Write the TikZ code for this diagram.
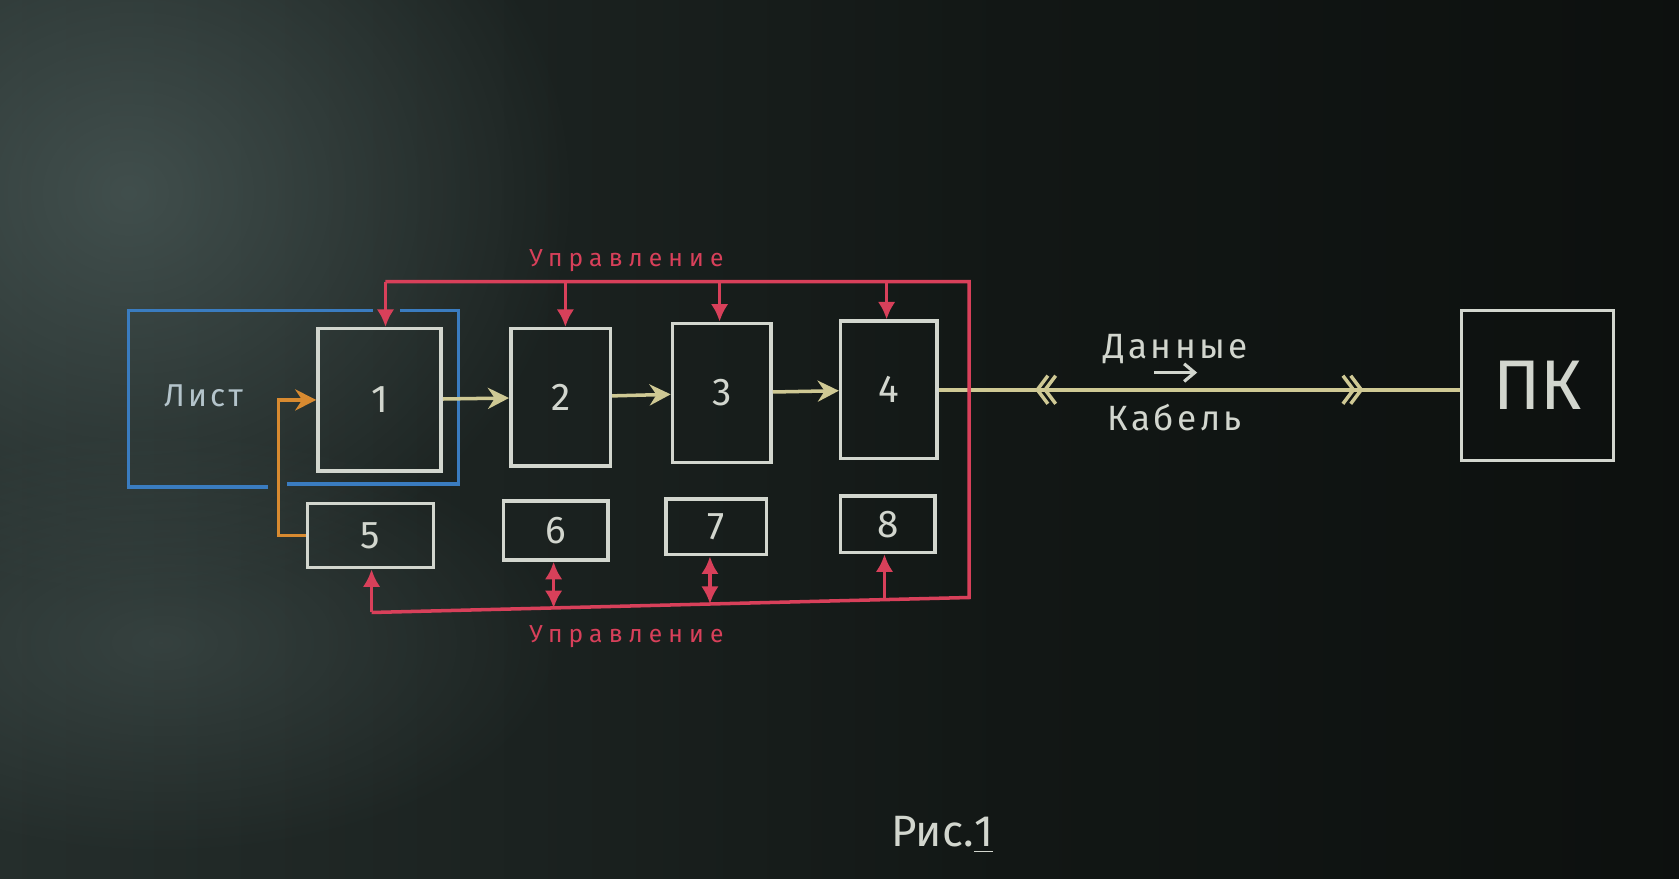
\documentclass[tikz,border=0pt]{standalone}
\usepackage{fontspec}
\setmainfont{Fira Sans}
\usetikzlibrary{arrows.meta,decorations.markings,fadings}
\definecolor{chalk}{HTML}{D2D6CE}
\definecolor{rchalk}{HTML}{D8405A}
\definecolor{bchalk}{HTML}{3A7CC0}
\definecolor{ychalk}{HTML}{CFC994}
\definecolor{ochalk}{HTML}{D88A30}
\definecolor{bl1}{HTML}{3B4845}
\definecolor{bl2}{HTML}{252E2C}
\definecolor{bl3}{HTML}{121715}
\definecolor{bl4}{HTML}{060807}
\definecolor{haze}{HTML}{5A6C6A}
\pgfdeclarehorizontalshading{board}{100bp}{color(0bp)=(bl1); color(25bp)=(bl2); color(55bp)=(bl3); color(100bp)=(bl4)}
\tikzfading[name=glow, inner color=transparent!0, outer color=transparent!100]
\tikzset{
  sz/.style 2 args={minimum width=#1*0.010708cm, minimum height=#2*0.010708cm},
  box/.style={draw=chalk, line width=1pt, inner sep=0pt, text=chalk, font=\fontsize{11}{11}\selectfont},
  wire/.style={line width=1pt},
  flow/.style={wire, draw=ychalk, -{Stealth[length=6pt,width=6pt]}},
  ctl/.style={wire, draw=rchalk, -{Latex[length=5pt,width=5pt]}},
  ctl2/.style={wire, draw=rchalk, {Latex[length=5pt,width=5pt]}-{Latex[length=5pt,width=5pt]}},
  rlabel/.style={text=rchalk, font=\fontsize{7}{8}\selectfont\addfontfeature{LetterSpace=25}},
  wlabel/.style={text=chalk, font=\fontsize{10}{10}\selectfont\addfontfeature{LetterSpace=10}},
}
\begin{document}
\begin{tikzpicture}[x=0.010708cm, y=-0.010708cm]
\useasboundingbox (0,0) rectangle (1568,820);
\shade[shading=board] (0,0) rectangle (1568,820);
\fill[haze, opacity=0.55, path fading=glow] (120,180) ellipse [x radius=420, y radius=380];
\fill[haze, opacity=0.35, path fading=glow] (150,600) ellipse [x radius=380, y radius=200];

% boxes
\node[box, sz={115}{133}] (b1) at (354.5,373.5) {1};
\node[box, sz={93}{128}]  (b2) at (523.5,371) {2};
\node[box, sz={92}{130}]  (b3) at (674,367) {3};
\node[box, sz={90}{128}]  (b4) at (830,364) {4};
\node[box, sz={118}{60}]  (b5) at (346,500) {5};
\node[box, sz={98}{55}]   (b6) at (519,495.5) {6};
\node[box, sz={94}{52}]   (b7) at (669,492) {7};
\node[box, sz={88}{53}]   (b8) at (829,489.5) {8};
\node[box, sz={142}{140}, font=\fontsize{20}{20}\selectfont] (pk) at (1436,360) {ПК};

% sheet (blue frame)
\node[text=chalk!80!bchalk, font=\fontsize{9}{9}\selectfont\addfontfeature{LetterSpace=10}] (list) at (190,370) {Лист};
\draw[wire, draw=bchalk] (348,290) -- (120,290) -- (120,455) -- (250,455);
\draw[wire, draw=bchalk] (374,290) -- (428,290) -- (428,452) -- (268,452);

% data flow
\draw[flow] (b1) -- (b2);
\draw[flow] (b2) -- (b3);
\draw[flow] (b3) -- (b4);

% orange feed 5 -> 1
\coordinate (oc) at (260,500);
\draw[wire, draw=ochalk, -{Stealth[length=6pt,width=6pt]}] (b5.west) -- (oc) |- (b1.west);

% cable
\draw[wire, draw=ychalk, decoration={markings,
  mark=at position 0.185 with {\arrowreversed[ychalk]{Straight Barb[length=3pt,width=8pt,line width=1pt]}},
  mark=at position 0.20 with {\arrowreversed[ychalk]{Straight Barb[length=3pt,width=8pt,line width=1pt]}},
  mark=at position 0.80 with {\arrow[ychalk]{Straight Barb[length=3pt,width=8pt,line width=1pt]}},
  mark=at position 0.815 with {\arrow[ychalk]{Straight Barb[length=3pt,width=8pt,line width=1pt]}}},
  postaction=decorate] (b4.east) -- (b4.east -| pk.west);
\node[wlabel] (dan) at (1098,326) {Данные};
\coordinate (da1) at (1078,348);
\coordinate (da2) at (1118,348);
\draw[wire, draw=chalk, line width=0.9pt, -{Straight Barb[length=3pt,width=5pt]}] (da1) -- (da2);
\node[wlabel] (kab) at (1097,390) {Кабель};

% control buses
\coordinate (t1) at (360,263);
\coordinate (t2) at (528,263);
\coordinate (t3) at (672,263);
\coordinate (t4) at (828,263);
\coordinate (tr) at (905,263);
\coordinate (br) at (905,558);
\coordinate (u5) at (347,572);
\coordinate (u6) at (517,568);
\coordinate (u7) at (663,564);
\coordinate (u8) at (826,560);
\draw[wire, draw=rchalk] (t1) -- (tr) -- (br) -- (u5);
\draw[ctl] (t1) -- (t1 |- b1.north);
\draw[ctl] (t2) -- (t2 |- b2.north);
\draw[ctl] (t3) -- (t3 |- b3.north);
\draw[ctl] (t4) -- (t4 |- b4.north);
\draw[ctl] (u5) -- (u5 |- b5.south);
\draw[ctl2] (u6) -- (u6 |- b6.south);
\draw[ctl2] (u7) -- (u7 |- b7.south);
\draw[ctl] (u8) -- (u8 |- b8.south);
\node[rlabel] (utop) at (585,243) {Управление};
\node[rlabel] (ubot) at (585,595) {Управление};

% caption
\node[text=chalk, font=\fontsize{12.5}{13}\selectfont] (fig) at (880,780) {Рис.\underline{1}};
\end{tikzpicture}
\end{document}
